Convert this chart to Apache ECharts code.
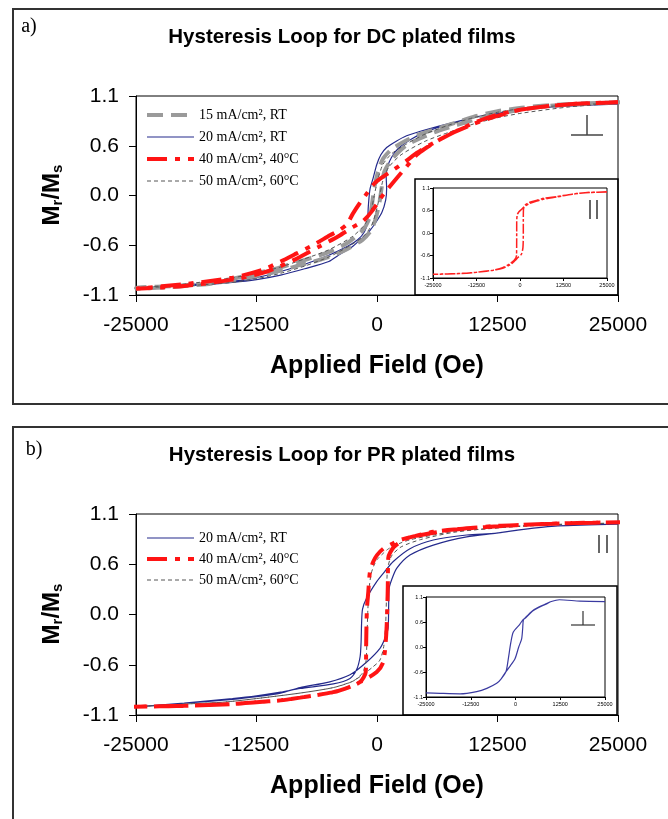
<!DOCTYPE html>
<html>
<head>
<meta charset="utf-8">
<script src="https://cdn.jsdelivr.net/npm/echarts@6/dist/echarts.min.js"></script>
<style>
  html, body { margin: 0; padding: 0; background: #fff; }
  #chart { width: 668px; height: 819px; }
</style>
</head>
<body>
<div id="chart"></div>
<script>
// tick labels
const fieldTicks = [-25000, -12500, 0, 12500, 25000];
const ratioTicks = [-1.1, -0.55, 0, 0.55, 1.1];

// legend names
const names = ['15 mA/cm², RT', '20 mA/cm², RT', '40 mA/cm², 40°C', '50 mA/cm², 60°C'];

// a) DC plated films - main plot, each loop = descending branch + ascending branch
const dc15Down = [[25300,1.03],[22000,1.02],[18000,1.0],[15000,0.97],[12400,0.93],[10000,0.87],[8000,0.80],[6530,0.75],[4500,0.68],[3070,0.61],[1500,0.51],[650,0.41],[150,0.28],[-250,0.10],[-500,-0.08],[-750,-0.24],[-1450,-0.38],[-3000,-0.52],[-4880,-0.62],[-6500,-0.68],[-8330,-0.74],[-10500,-0.81],[-12500,-0.86],[-15000,-0.92],[-17700,-0.97],[-21000,-1.0],[-25000,-1.02]];
const dc15Up = [[-25000,-1.03],[-21000,-1.01],[-17700,-0.98],[-15000,-0.94],[-12500,-0.89],[-10000,-0.83],[-8000,-0.77],[-6530,-0.73],[-4500,-0.66],[-3070,-0.59],[-1500,-0.49],[-650,-0.39],[-150,-0.26],[250,-0.08],[500,0.10],[750,0.26],[1450,0.39],[3000,0.55],[4880,0.65],[6500,0.72],[8330,0.78],[10500,0.85],[12500,0.90],[15000,0.95],[17700,0.99],[21000,1.01],[25300,1.03]];

const dc20Down = [[25000,1.01],[20000,0.99],[15000,0.95],[12400,0.90],[10000,0.86],[8000,0.81],[6530,0.77],[4500,0.71],[3070,0.66],[2000,0.60],[1000,0.53],[400,0.45],[-30,0.34],[-380,0.20],[-726,0.07],[-900,-0.12],[-1000,-0.30],[-1300,-0.40],[-2000,-0.49],[-3000,-0.56],[-5000,-0.66],[-7500,-0.76],[-10000,-0.84],[-12580,-0.91],[-15000,-0.95],[-20000,-0.99],[-25000,-1.02]];
const dc20Up = [[-25000,-1.02],[-20000,-1.0],[-15000,-0.96],[-12500,-0.93],[-10000,-0.88],[-7500,-0.81],[-5000,-0.73],[-3840,-0.65],[-2500,-0.56],[-1760,-0.49],[-1000,-0.42],[-400,-0.34],[490,-0.19],[900,-0.05],[1000,0.08],[950,0.22],[1100,0.32],[1500,0.42],[2200,0.52],[3500,0.62],[5000,0.70],[7500,0.79],[10000,0.86],[12500,0.91],[15000,0.95],[20000,0.99],[25000,1.01]];

const dc40Down = [[25000,1.03],[20000,1.01],[15000,0.95],[12070,0.88],[10000,0.80],[8000,0.70],[6530,0.62],[5000,0.53],[4120,0.47],[3000,0.38],[1800,0.29],[800,0.22],[-210,0.14],[-1000,0.03],[-1760,-0.08],[-2500,-0.20],[-3140,-0.32],[-4000,-0.39],[-4880,-0.44],[-6500,-0.54],[-8330,-0.64],[-10000,-0.73],[-11830,-0.82],[-15000,-0.91],[-20000,-0.98],[-25000,-1.03]];
const dc40Up = [[-25000,-1.03],[-20000,-1.0],[-15000,-0.93],[-12000,-0.86],[-10000,-0.78],[-8000,-0.68],[-5910,-0.56],[-4000,-0.45],[-2500,-0.35],[-1420,-0.28],[-500,-0.17],[650,0.01],[1800,0.16],[3070,0.32],[4120,0.45],[5000,0.52],[6530,0.62],[8000,0.70],[10000,0.79],[12500,0.88],[15000,0.95],[20000,1.01],[25000,1.03]];

const dc50Down = [[25000,1.02],[20000,1.0],[15000,0.96],[12500,0.92],[10000,0.86],[7500,0.78],[5000,0.68],[3070,0.57],[1500,0.46],[600,0.34],[100,0.18],[-250,0.02],[-600,-0.16],[-1200,-0.31],[-2500,-0.45],[-5000,-0.60],[-7500,-0.70],[-10000,-0.79],[-12500,-0.86],[-15000,-0.91],[-20000,-0.98],[-25000,-1.02]];
const dc50Up = [[-25000,-1.02],[-20000,-1.0],[-15000,-0.96],[-12500,-0.92],[-10000,-0.86],[-7500,-0.78],[-5000,-0.68],[-3070,-0.57],[-1500,-0.46],[-600,-0.34],[-100,-0.18],[250,-0.02],[600,0.16],[1200,0.31],[2500,0.45],[5000,0.60],[7500,0.70],[10000,0.79],[12500,0.86],[15000,0.91],[20000,0.98],[25000,1.02]];

// a) inset (parallel field)
const insetADown = [[25000,1.0],[20000,0.99],[15000,0.95],[10580,0.88],[7000,0.83],[4810,0.78],[2500,0.71],[1200,0.64],[500,0.58],[-300,0.52],[-800,0.44],[-950,0.25],[-950,0.0],[-960,-0.30],[-1000,-0.55],[-1600,-0.66],[-2890,-0.75],[-5000,-0.85],[-7700,-0.91],[-12500,-0.96],[-17300,-0.99],[-25000,-1.01]];
const insetAUp = [[-25000,-1.01],[-17300,-0.99],[-12500,-0.96],[-7700,-0.91],[-5000,-0.86],[-2890,-0.78],[-1500,-0.68],[-600,-0.60],[400,-0.52],[850,-0.35],[950,0.0],[950,0.30],[1000,0.58],[1440,0.68],[2500,0.74],[4810,0.80],[7000,0.85],[10580,0.89],[15000,0.95],[20000,0.99],[25000,1.0]];

// b) PR plated films - main plot
const pr20Down = [[25000,0.99],[18770,0.97],[15000,0.93],[12400,0.89],[9300,0.87],[5840,0.815],[3420,0.72],[1690,0.58],[800,0.47],[-30,0.36],[-1070,0.18],[-1500,0.06],[-1600,-0.10],[-1650,-0.30],[-1750,-0.46],[-2100,-0.60],[-2800,-0.70],[-4530,-0.76],[-7980,-0.81],[-10000,-0.85],[-12500,-0.89],[-15000,-0.92],[-20000,-0.97],[-25000,-1.01]];
const pr20Up = [[-25000,-1.01],[-20000,-0.97],[-15000,-0.93],[-12500,-0.90],[-10000,-0.86],[-7980,-0.80],[-5000,-0.74],[-2800,-0.66],[-1070,-0.52],[310,-0.37],[830,-0.26],[1150,-0.15],[1210,0.10],[1250,0.28],[1520,0.38],[2040,0.505],[3420,0.65],[5840,0.76],[9300,0.85],[12400,0.89],[15000,0.93],[18770,0.97],[25000,0.99]];

const pr40Down = [[25800,1.01],[20000,1.0],[15000,0.98],[11720,0.96],[8000,0.93],[5840,0.905],[4000,0.86],[2385,0.815],[1500,0.77],[650,0.72],[0,0.65],[-380,0.58],[-726,0.47],[-900,0.25],[-1050,0.05],[-1120,-0.30],[-1170,-0.63],[-1760,-0.74],[-3000,-0.80],[-4530,-0.85],[-7980,-0.91],[-10000,-0.94],[-12500,-0.96],[-15000,-0.98],[-20000,-1.0],[-25600,-1.01]];
const pr40Up = [[-25600,-1.01],[-20000,-1.0],[-15000,-0.98],[-12500,-0.96],[-10000,-0.94],[-7980,-0.91],[-4530,-0.85],[-3000,-0.80],[-1760,-0.74],[-30,-0.63],[650,-0.52],[930,-0.26],[1050,0.0],[1120,0.30],[1170,0.62],[1760,0.74],[3000,0.83],[4530,0.87],[7980,0.93],[10000,0.95],[12500,0.97],[15000,0.98],[20000,1.0],[25800,1.01]];

const pr50Down = [[25000,1.0],[20000,0.99],[15000,0.97],[11720,0.94],[8000,0.91],[5840,0.87],[3500,0.82],[2385,0.78],[1200,0.72],[650,0.67],[0,0.60],[-300,0.54],[-600,0.45],[-800,0.30],[-950,0.05],[-1050,-0.30],[-1150,-0.52],[-1500,-0.64],[-2500,-0.73],[-4530,-0.80],[-7980,-0.86],[-12500,-0.92],[-16000,-0.96],[-20000,-0.98],[-25000,-1.01]];
const pr50Up = [[-25000,-1.01],[-20000,-0.98],[-16000,-0.96],[-12500,-0.92],[-7980,-0.86],[-4530,-0.80],[-2500,-0.73],[-1500,-0.66],[-500,-0.58],[300,-0.50],[700,-0.35],[900,-0.10],[1000,0.25],[1100,0.50],[1500,0.64],[2500,0.74],[4530,0.82],[7980,0.90],[12500,0.95],[16000,0.97],[20000,0.99],[25000,1.0]];

// b) inset (perpendicular field)
const insetBDown = [[25000,1.0],[18000,1.01],[12260,1.04],[10000,1.0],[8500,0.94],[6500,0.87],[4780,0.79],[2930,0.65],[2000,0.59],[1200,0.50],[-610,0.33],[-1300,0.10],[-2010,-0.26],[-2650,-0.54],[-4000,-0.70],[-5250,-0.80],[-8000,-0.91],[-10840,-0.98],[-15500,-1.03],[-21090,-1.02],[-25000,-1.01]];
const insetBUp = [[-25000,-1.01],[-21090,-1.02],[-15500,-1.03],[-10840,-0.98],[-8000,-0.91],[-5250,-0.80],[-4000,-0.70],[-2650,-0.54],[-1500,-0.42],[-140,-0.26],[900,0.0],[1720,0.18],[2000,0.40],[2200,0.59],[2930,0.66],[4780,0.80],[6500,0.88],[8500,0.95],[10000,1.0],[12260,1.04],[18000,1.01],[25000,1.0]];

const SANS = 'Liberation Sans, Arial, sans-serif';
const SERIF = 'Liberation Serif, Times New Roman, serif';

const styles = {
    s15: { color: '#9a9a9a', width: 4, type: [16, 8] },
    s20: { color: '#242a8c', width: 1.2, type: 'solid' },
    s40: { color: '#ff1414', width: 4, type: [20, 8, 5, 8] },
    s50: { color: '#555555', width: 1, type: [4, 3] }
};

function loop(name, down, up, style, axis) {
    return {
        name: name,
        type: 'line',
        xAxisIndex: axis,
        yAxisIndex: axis,
        data: down.concat(up),
        symbol: 'none',
        smooth: 0.25,
        clip: false,
        itemStyle: { color: style.color },
        lineStyle: { color: style.color, width: style.width, type: style.type }
    };
}

function xAxisOf(grid, small) {
    return {
        gridIndex: grid,
        type: 'value',
        min: fieldTicks[0],
        max: fieldTicks[fieldTicks.length - 1],
        interval: fieldTicks[1] - fieldTicks[0],
        axisLine: { onZero: false, lineStyle: { color: '#000', width: 1 } },
        axisTick: { length: small ? 3 : 7, lineStyle: { color: '#000' } },
        axisLabel: {
            formatter: v => String(v),
            fontFamily: SANS,
            fontSize: small ? 5.5 : 21,
            color: '#000',
            margin: small ? 4 : 20
        },
        splitLine: { show: false },
        name: small ? '' : 'Applied Field (Oe)',
        nameLocation: 'middle',
        nameGap: 59,
        nameTextStyle: { fontFamily: SANS, fontWeight: 'bold', fontSize: 25, color: '#000' }
    };
}

function yAxisOf(grid, small) {
    return {
        gridIndex: grid,
        type: 'value',
        min: ratioTicks[0],
        max: ratioTicks[ratioTicks.length - 1],
        interval: ratioTicks[1] - ratioTicks[0],
        axisLine: { onZero: false, lineStyle: { color: '#000', width: 1 } },
        axisTick: { length: small ? 3 : 7, lineStyle: { color: '#000' } },
        axisLabel: {
            formatter: v => v.toFixed(1),
            fontFamily: SANS,
            fontSize: small ? 5.5 : 21,
            color: '#000',
            margin: small ? 3 : 17
        },
        splitLine: { show: false }
    };
}

const gridBase = { show: true, borderColor: '#000', borderWidth: 1, outerBoundsMode: 'none' };

function label(text, x, y, font) {
    return {
        type: 'text', x: x, y: y, z: 10,
        style: Object.assign({ text: text, fill: '#000', align: 'center', verticalAlign: 'middle',
            textAlign: 'center', textVerticalAlign: 'middle' }, font)
    };
}

function yTitle(y) {
    return {
        type: 'text', x: 52, y: y, rotation: Math.PI / 2, z: 10,
        style: {
            text: '{m|M}{r|r}{m|/M}{r|s}',
            align: 'center', verticalAlign: 'middle', textAlign: 'center', textVerticalAlign: 'middle',
            rich: {
                m: { fontFamily: SANS, fontWeight: 'bold', fontSize: 24, fill: '#000', lineHeight: 26, verticalAlign: 'middle' },
                r: { fontFamily: SANS, fontWeight: 'bold', fontSize: 15, fill: '#000', verticalAlign: 'bottom' }
            }
        }
    };
}

function seg(x1, y1, x2, y2, color, w) {
    return { type: 'line', z: 10, shape: { x1: x1, y1: y1, x2: x2, y2: y2 }, style: { stroke: color, lineWidth: w } };
}

const legendText = { fontFamily: SERIF, fontSize: 14, color: '#000' };
// line sample only, no marker in the legend
const legendMarker = { opacity: 0 };

function legendItem(name, style) {
    return { name: name, lineStyle: { width: style.width, type: style.type, color: style.color } };
}

const option = {
    backgroundColor: '#fff',
    animation: false,
    grid: [
        Object.assign({ left: 136, top: 96, width: 482, height: 199 }, gridBase),
        Object.assign({ left: 433, top: 188, width: 174, height: 90, backgroundColor: '#fff' }, gridBase),
        Object.assign({ left: 136, top: 514, width: 482, height: 201 }, gridBase),
        Object.assign({ left: 426, top: 597, width: 179, height: 100, backgroundColor: '#fff' }, gridBase)
    ],
    xAxis: [xAxisOf(0, false), xAxisOf(1, true), xAxisOf(2, false), xAxisOf(3, true)],
    yAxis: [yAxisOf(0, false), yAxisOf(1, true), yAxisOf(2, false), yAxisOf(3, true)],
    legend: [
        {
            orient: 'vertical', left: 140, top: 103, itemWidth: 47, itemHeight: 14, itemGap: 8,
            selectedMode: false, textStyle: legendText, itemStyle: legendMarker,
            data: [legendItem(names[0], styles.s15), legendItem(names[1], styles.s20),
                   legendItem(names[2], styles.s40), legendItem(names[3], styles.s50)]
        },
        {
            orient: 'vertical', left: 140, top: 526, itemWidth: 47, itemHeight: 14, itemGap: 7,
            selectedMode: false, textStyle: legendText, itemStyle: legendMarker,
            data: [legendItem(names[1], styles.s20), legendItem(names[2], styles.s40),
                   legendItem(names[3], styles.s50)]
        }
    ],
    series: [
        loop(names[1], dc20Down, dc20Up, styles.s20, 0),
        loop(names[0], dc15Down, dc15Up, styles.s15, 0),
        loop(names[3], dc50Down, dc50Up, styles.s50, 0),
        loop(names[2], dc40Down, dc40Up, styles.s40, 0),
        loop('DC inset', insetADown, insetAUp, { color: '#ff2020', width: 1.5, type: [10, 2, 3, 2] }, 1),
        loop(names[1] + ' ', pr20Down, pr20Up, styles.s20, 2),
        loop(names[3] + ' ', pr50Down, pr50Up, styles.s50, 2),
        loop(names[2] + ' ', pr40Down, pr40Up, styles.s40, 2),
        loop('PR inset', insetBDown, insetBUp, { color: '#3a3aa0', width: 1.2, type: 'solid' }, 3)
    ],
    graphic: {
        elements: [
            // panel frames
            { type: 'rect', z: -2, shape: { x: 13, y: 9, width: 700, height: 395 }, style: { fill: null, stroke: '#333', lineWidth: 2 } },
            { type: 'rect', z: -2, shape: { x: 13, y: 427, width: 700, height: 420 }, style: { fill: null, stroke: '#333', lineWidth: 2 } },
            // inset frames
            { type: 'rect', z: -1, shape: { x: 415, y: 179, width: 203, height: 116 }, style: { fill: '#fff', stroke: '#000', lineWidth: 1.5 } },
            { type: 'rect', z: -1, shape: { x: 403, y: 586, width: 214, height: 129 }, style: { fill: '#fff', stroke: '#000', lineWidth: 1.5 } },
            // panel labels and titles
            label('a)', 29, 27, { fontFamily: SERIF, fontSize: 20 }),
            label('b)', 34, 450, { fontFamily: SERIF, fontSize: 20 }),
            label('Hysteresis Loop for DC plated films', 342, 37, { fontFamily: SANS, fontWeight: 'bold', fontSize: 20.5 }),
            label('Hysteresis Loop for PR plated films', 342, 455, { fontFamily: SANS, fontWeight: 'bold', fontSize: 20.5 }),
            yTitle(195),
            yTitle(614),
            // field direction marks
            seg(587, 115, 587, 135, '#444', 1.5),
            seg(571, 135, 603, 135, '#444', 1.5),
            seg(590, 200, 590, 219, '#666', 2),
            seg(597, 200, 597, 219, '#666', 2),
            seg(599, 535, 599, 553, '#333', 1.5),
            seg(607, 535, 607, 553, '#333', 1.5),
            seg(583, 611, 583, 625, '#333', 1.2),
            seg(571, 625, 595, 625, '#333', 1.2)
        ]
    }
};

const chart = echarts.init(document.getElementById('chart'));
chart.setOption(option);
</script>
</body>
</html>
